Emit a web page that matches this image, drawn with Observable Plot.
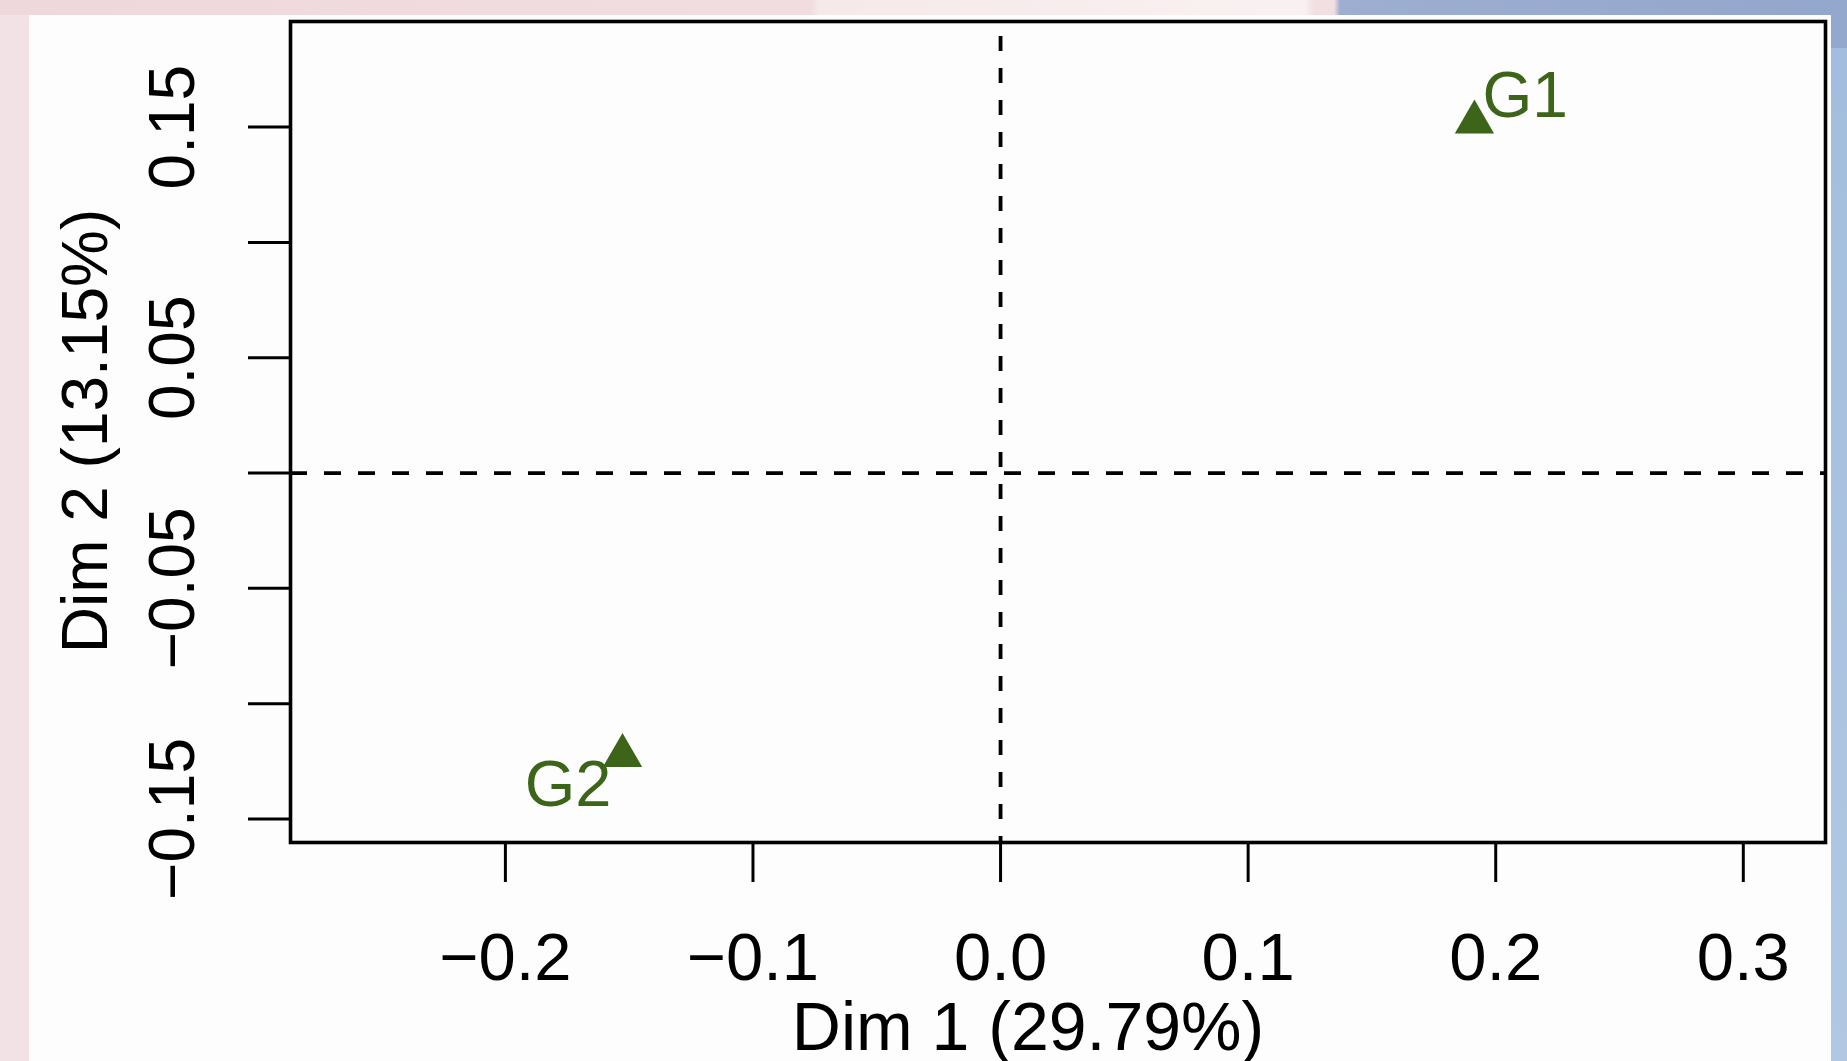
<!DOCTYPE html>
<html>
<head>
<meta charset="utf-8">
<script src="https://cdn.jsdelivr.net/npm/d3@7"></script>
<script src="https://cdn.jsdelivr.net/npm/@observablehq/plot@0.6"></script>
<style>
html, body { margin: 0; padding: 0; overflow: hidden; background: #ffffff; }
#page { position: relative; width: 1847px; height: 1061px; background: #fdfdfd; }
.bg { position: absolute; }
#chart { position: absolute; left: 0; top: 0; }
</style>
</head>
<body>
<div id="page">
  <div class="bg" style="left:0;top:0;width:1847px;height:15px;background:linear-gradient(90deg,#efd8db 0px,#f1dde0 812px,#f6e9ea 818px,#f9f1f1 1305px,#f2dfe1 1314px,#f2dfe1 1334px,#9daed0 1340px,#93a6cb 1847px);"></div>
  <div class="bg" style="left:0;top:15px;width:29px;height:1046px;background:#f3e2e5;"></div>
  <div class="bg" style="left:1831px;top:0;width:16px;height:48px;background:#94a7cc;"></div>
  <div class="bg" style="left:1831px;top:48px;width:16px;height:1013px;background:linear-gradient(180deg,#a2bddd,#b2c8e2);"></div>
  <div id="chart"></div>
</div>
<script>
// ---- data ----
const groups = ["G1", "G2"];
const dim1 = [0.1914, -0.1527];
const dim2 = [0.1521, -0.1225];
const xTicks = [-0.2, -0.1, 0, 0.1, 0.2, 0.3];
const xTickLabels = ["−0.2", "−0.1", "0.0", "0.1", "0.2", "0.3"];
const yTicks = [-0.15, -0.1, -0.05, 0, 0.05, 0.1, 0.15];
const yLabelTicks = [-0.15, -0.05, 0.05, 0.15];
const yTickLabels = ["−0.15", "−0.05", "0.05", "0.15"];
const xDomain = [-0.2868, 0.3332];
const yDomain = [-0.1602, 0.1958];
const xTitle = "Dim 1 (29.79%)";
const yTitle = "Dim 2 (13.15%)";

const green = "#3c6519";
const pts = groups.map((g, i) => ({g, x: dim1[i], y: dim2[i]}));

const chart = Plot.plot({
  width: 1847,
  height: 1061,
  marginLeft: 290,
  marginRight: 22,
  marginTop: 21,
  marginBottom: 219,
  style: {background: "transparent", overflow: "visible", fontFamily: "'Liberation Sans', Arial, Helvetica, sans-serif", color: "#000"},
  x: {domain: xDomain},
  y: {domain: yDomain},
  marks: [
    Plot.ruleX([0], {stroke: "#000", strokeWidth: 3.8, strokeDasharray: "15,17", strokeDashoffset: 17}),
    Plot.ruleY([0], {stroke: "#000", strokeWidth: 3.8, strokeDasharray: "17,17"}),
    Plot.frame({stroke: "#000", strokeWidth: 3.6}),
    Plot.axisX({ticks: xTicks, tickSize: 40, tickFormat: () => "", label: null, stroke: "#000", strokeWidth: 3}),
    Plot.axisY({ticks: yTicks, tickSize: 42, tickFormat: () => "", label: null, stroke: "#000", strokeWidth: 3}),
    Plot.text(xTicks, {x: d => d, text: (d, i) => xTickLabels[i], frameAnchor: "bottom", dy: 137, lineAnchor: "bottom", textAnchor: "middle", fontSize: 67, fill: "#000"}),
    Plot.text(yLabelTicks, {y: d => d, text: (d, i) => yTickLabels[i], frameAnchor: "left", dx: -97, rotate: -90, textAnchor: "middle", lineAnchor: "bottom", fontSize: 64, fill: "#000"}),
    Plot.text([xTitle], {text: d => d, frameAnchor: "bottom", dx: -30, dy: 207, lineAnchor: "bottom", textAnchor: "middle", fontSize: 68, fill: "#000"}),
    Plot.text([yTitle], {text: d => d, frameAnchor: "left", dx: -184, dy: -1, rotate: -90, lineAnchor: "bottom", textAnchor: "middle", fontSize: 64, fill: "#000"}),
    Plot.dot(pts, {x: "x", y: "y", symbol: "triangle", r: 14.57, fill: green}),
    Plot.text(pts.filter(d => d.g === "G1"), {x: "x", y: "y", text: "g", textAnchor: "start", lineAnchor: "bottom", dx: 8, dy: -5, fontSize: 64, fill: green}),
    Plot.text(pts.filter(d => d.g === "G2"), {x: "x", y: "y", text: "g", textAnchor: "end", lineAnchor: "bottom", dx: -11, dy: 50, fontSize: 65, fill: green})
  ]
});
document.getElementById("chart").appendChild(chart);
</script>
</body>
</html>
